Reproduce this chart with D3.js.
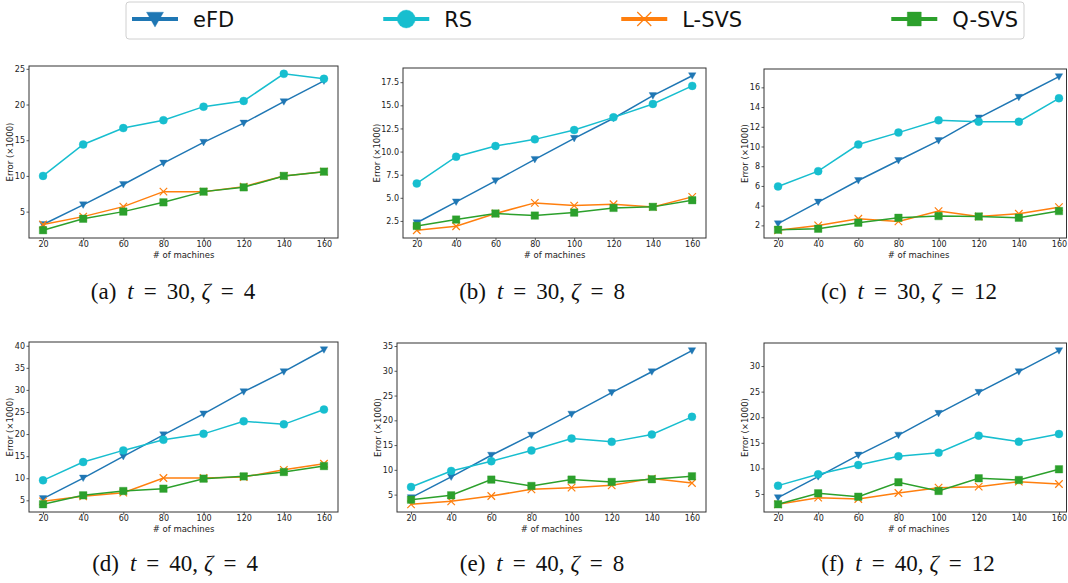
<!DOCTYPE html>
<html>
<head>
<meta charset="utf-8">
<script src="https://cdn.jsdelivr.net/npm/d3@7"></script>
<style>
  body { margin: 0; background: #fff; }
  svg { display: block; font-family: "DejaVu Sans", sans-serif; }
</style>
</head>
<body>
<svg id="chart" width="1068" height="583"></svg>
<script>
// x values shared by every panel
const machines = [20, 40, 60, 80, 100, 120, 140, 160];

// one row per panel (a..f), error x1000
const eFD = [
    [3.2, 5.95, 8.8, 11.8, 14.7, 17.4, 20.4, 23.3],
    [2.3, 4.56, 6.84, 9.15, 11.43, 13.6, 16.05, 18.2],
    [2.17, 4.36, 6.55, 8.58, 10.6, 12.9, 14.99, 17.08],
    [5.38, 10.04, 14.94, 19.83, 24.57, 29.6, 34.13, 39.1],
    [4.39, 8.57, 12.95, 17.0, 21.24, 25.6, 29.8, 34.06],
    [4.28, 8.39, 12.6, 16.5, 20.75, 24.86, 28.9, 33.0]
];
const RS = [
    [10.0, 14.4, 16.7, 17.8, 19.7, 20.5, 24.3, 23.6],
    [6.55, 9.44, 10.6, 11.32, 12.33, 13.7, 15.15, 17.1],
    [5.95, 7.5, 10.2, 11.41, 12.66, 12.52, 12.52, 14.89],
    [9.52, 13.66, 16.3, 18.7, 20.05, 22.9, 22.2, 25.55],
    [6.54, 9.78, 11.74, 13.9, 16.32, 15.65, 17.13, 20.7],
    [6.63, 8.84, 10.66, 12.36, 13.07, 16.4, 15.22, 16.72]
];
const LSVS = [
    [3.2, 4.3, 5.7, 7.8, 7.8, 8.5, 10.0, 10.6],
    [1.49, 1.92, 3.3, 4.45, 4.16, 4.3, 4.02, 5.1],
    [1.5, 2.0, 2.67, 2.4, 3.45, 2.9, 3.18, 3.85],
    [4.77, 5.9, 6.73, 10.04, 10.04, 10.27, 11.9, 13.28],
    [3.04, 3.64, 4.72, 6.07, 6.41, 6.88, 8.23, 7.35],
    [2.98, 4.28, 4.02, 5.2, 6.24, 6.43, 7.41, 6.95]
];
const QSVS = [
    [2.4, 4.0, 5.0, 6.3, 7.8, 8.4, 10.0, 10.6],
    [1.96, 2.65, 3.3, 3.08, 3.4, 3.91, 4.02, 4.74],
    [1.56, 1.66, 2.27, 2.77, 2.94, 2.9, 2.77, 3.45],
    [4.1, 6.13, 7.1, 7.63, 9.9, 10.42, 11.4, 12.75],
    [3.98, 4.86, 8.03, 6.75, 8.03, 7.56, 8.1, 8.7],
    [2.98, 5.13, 4.48, 7.28, 5.59, 8.06, 7.73, 9.82]
];

const yTickValues = [
    [5, 10, 15, 20, 25],
    [2.5, 5, 7.5, 10, 12.5, 15, 17.5],
    [2, 4, 6, 8, 10, 12, 14, 16],
    [5, 10, 15, 20, 25, 30, 35, 40],
    [5, 10, 15, 20, 25, 30, 35],
    [5, 10, 15, 20, 25, 30]
];
const yTickFormats = ["d", ".1f", "d", "d", "d", "d"];

// caption parts: letter, t, zeta
const captionLetters = ["a", "b", "c", "d", "e", "f"];
const captionT = [30, 30, 30, 40, 40, 40];
const captionZeta = [4, 8, 12, 4, 8, 12];

const seriesNames = ["eFD", "RS", "L-SVS", "Q-SVS"];
const seriesData = [eFD, RS, LSVS, QSVS];
const seriesColors = ["#1f77b4", "#17becf", "#ff7f0e", "#2ca02c"];
const seriesMarkers = ["tri", "circle", "x", "square"];

const W = 1068, H = 583;
const svg = d3.select("#chart");

// panel boxes (layout only)
const panels = [
    {x: 29, y: 66, w: 309, h: 172, cap: 173, capY: 299},
    {x: 403, y: 68, w: 303, h: 170, cap: 542, capY: 299},
    {x: 764, y: 69, w: 309, h: 169, cap: 909, capY: 299},
    {x: 29, y: 342, w: 309, h: 170, cap: 175, capY: 571},
    {x: 397, y: 343, w: 309, h: 169, cap: 542, capY: 571},
    {x: 764, y: 343, w: 309, h: 169, cap: 908, capY: 571}
];

function markerPath(type, s) {
    const r = s / 2;
    if (type === "tri") return `M${-r},${-r * 0.8} L${r},${-r * 0.8} L0,${r * 0.95} Z`;
    if (type === "circle") return d3.symbol(d3.symbolCircle, Math.PI * r * r)();
    if (type === "square") return `M${-r},${-r} H${r} V${r} H${-r} Z`;
    return `M${-r},${-r} L${r},${r} M${-r},${r} L${r},${-r}`;
}

function drawMarker(g, type, color, s) {
    const p = g.append("path").attr("d", markerPath(type, s));
    if (type === "x") p.attr("fill", "none").attr("stroke", color).attr("stroke-width", 1.2);
    else p.attr("fill", color).attr("stroke", color).attr("stroke-width", 0.6).attr("stroke-opacity", 0.6);
    return p;
}

panels.forEach((p, i) => {
    const g = svg.append("g").classed("panel", true);
    const right = Math.min(p.x + p.w, W - 1.5);

    const all = seriesData.flatMap(s => s[i]);
    const lo = d3.min(all), hi = d3.max(all), pad = (hi - lo) * 0.05;

    const x = d3.scaleLinear().domain([13, 167]).range([p.x, p.x + p.w]);
    const y = d3.scaleLinear().domain([lo - pad, hi + pad]).range([p.y + p.h, p.y]);

    // clip plot area
    const clipId = `clip${i}`;
    g.append("clipPath").attr("id", clipId)
        .append("rect").attr("x", p.x).attr("y", p.y).attr("width", right - p.x).attr("height", p.h);

    // axes
    const xAxis = g.append("g")
        .attr("transform", `translate(0,${p.y + p.h})`)
        .call(d3.axisBottom(x).tickValues(machines).tickSize(2.5).tickPadding(1).tickFormat(d3.format("d")));
    const yAxis = g.append("g")
        .attr("transform", `translate(${p.x},0)`)
        .call(d3.axisLeft(y).tickValues(yTickValues[i]).tickSize(2.5).tickPadding(1.5)
            .tickFormat(d3.format(yTickFormats[i])));
    [xAxis, yAxis].forEach(a => {
        a.select(".domain").remove();
        a.selectAll("line").attr("stroke", "#333").attr("stroke-width", 0.8);
        a.selectAll("text").attr("font-size", 8).attr("fill", "#222")
            .attr("font-family", "DejaVu Sans");
    });

    // series
    const plot = g.append("g").attr("clip-path", `url(#${clipId})`);
    seriesData.forEach((sd, k) => {
        const vals = sd[i];
        const pts = machines.map((m, j) => [x(m), y(vals[j])]);
        plot.append("path")
            .attr("d", d3.line()(pts))
            .attr("fill", "none")
            .attr("stroke", seriesColors[k])
            .attr("stroke-width", 1.5);
        pts.forEach(pt => {
            const mg = plot.append("g").attr("transform", `translate(${pt[0]},${pt[1]})`);
            drawMarker(mg, seriesMarkers[k], seriesColors[k], seriesMarkers[k] === "circle" ? 8 : 7.5);
        });
    });

    // frame
    g.append("rect")
        .attr("x", p.x).attr("y", p.y)
        .attr("width", right - p.x).attr("height", p.h)
        .attr("fill", "none").attr("stroke", "#333").attr("stroke-width", 1);

    // axis titles
    g.append("text")
        .attr("x", (p.x + p.x + p.w) / 2).attr("y", p.y + p.h + 19.5)
        .attr("text-anchor", "middle").attr("font-size", 8.5).attr("fill", "#222")
        .text("# of machines");

    const tickW = d3.max(yAxis.selectAll("text").nodes(), n => n.getComputedTextLength());
    const ylx = p.x - 4 - tickW - 1.5;
    g.append("text")
        .attr("transform", `translate(${ylx},${p.y + p.h / 2}) rotate(-90)`)
        .attr("text-anchor", "middle").attr("font-size", 8.5).attr("fill", "#222")
        .text("Error (\u00d71000)");

    // caption, spaced like the LaTeX original
    const cap = g.append("text")
        .attr("x", p.cap).attr("y", p.capY)
        .attr("text-anchor", "middle")
        .attr("font-family", "'Liberation Serif', 'DejaVu Serif', serif")
        .attr("font-size", 23).attr("fill", "#111");
    cap.append("tspan").text(`(${captionLetters[i]})`);
    cap.append("tspan").attr("dx", 11).attr("font-style", "italic").text("t");
    cap.append("tspan").attr("dx", 10).text("=");
    cap.append("tspan").attr("dx", 10).text(`${captionT[i]},`);
    cap.append("tspan").attr("dx", 6).attr("font-style", "italic").text("\u03b6");
    cap.append("tspan").attr("dx", 10).text("=");
    cap.append("tspan").attr("dx", 10).text(`${captionZeta[i]}`);
});

// legend
const legend = svg.append("g").classed("legend", true);
legend.append("rect")
    .attr("x", 126).attr("y", 2).attr("width", 898).attr("height", 37)
    .attr("rx", 3).attr("fill", "#fff").attr("stroke", "#d0d0d0").attr("stroke-width", 1);

const handleW = 46, textGap = 15, legStart = 132, legEnd = 1018, legY = 19;
const labels = seriesNames.map(n => legend.append("text")
    .attr("font-size", 21).attr("fill", "#111").attr("y", legY + 8).text(n));
const widths = labels.map(t => t.node().getComputedTextLength());
const entryW = widths.map(w => handleW + textGap + w);
const gap = (legEnd - legStart - d3.sum(entryW)) / (seriesNames.length - 1);

let cx = legStart;
seriesNames.forEach((n, k) => {
    legend.append("line")
        .attr("x1", cx).attr("x2", cx + handleW).attr("y1", legY).attr("y2", legY)
        .attr("stroke", seriesColors[k]).attr("stroke-width", 4);
    const mg = legend.append("g").attr("transform", `translate(${cx + handleW / 2},${legY})`);
    const sizes = {tri: 17, circle: 18, x: 14, square: 14};
    drawMarker(mg, seriesMarkers[k], seriesColors[k], sizes[seriesMarkers[k]]);
    labels[k].attr("x", cx + handleW + textGap);
    cx += entryW[k] + gap;
});
</script>
</body>
</html>
